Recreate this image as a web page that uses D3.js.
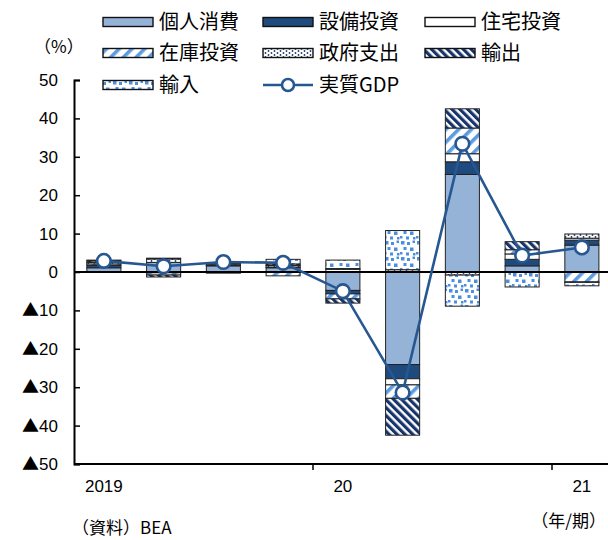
<!DOCTYPE html>
<html>
<head>
<meta charset="utf-8">
<script src="https://cdn.jsdelivr.net/npm/d3@7"></script>
<style>
  html, body { margin: 0; padding: 0; background: #fff; }
  svg { display: block; }
  text { fill: #000; }
</style>
</head>
<body>
<svg id="chart" width="608" height="540"></svg>
<script>
// Quarters 2019Q1 – 2021Q1
const quarters = ["2019Q1","2019Q2","2019Q3","2019Q4","2020Q1","2020Q2","2020Q3","2020Q4","2021Q1"];

// Contributions to real GDP growth (annualized q/q, %pt)
const consumption   = [1.1, 2.5, 1.6, 1.1, -4.8, -24.1, 25.4, 1.6, 7.0];
const equipmentInv  = [0.6, -0.1, 0.1, -0.1, -0.9, -3.7, 3.3, 1.7, 1.3];
const housingInv    = [-0.1, -0.1, 0.2, 0.2, 0.7, -1.6, 2.1, 1.4, 0.5];
const inventoryInv  = [0.4, -0.6, -0.1, -0.9, -1.3, -3.5, 6.7, 1.1, -2.6];
const government    = [0.4, 0.9, 0.3, 0.4, 0.2, 0.6, -0.8, -0.1, 1.1];
const exportsC      = [0.4, -0.5, 0.1, 0.4, -1.1, -9.6, 5.0, 2.1, -0.1];
const importsC      = [0.2, 0.2, -0.2, 1.2, 2.2, 10.2, -8.1, -3.8, -0.9];

// Real GDP growth (annualized q/q, %)
const realGDP = [2.9, 1.5, 2.6, 2.4, -5.0, -31.4, 33.4, 4.3, 6.4];

const seriesNames = ["個人消費","設備投資","住宅投資","在庫投資","政府支出","輸出","輸入"];
const seriesValues = [consumption, equipmentInv, housingInv, inventoryInv, government, exportsC, importsC];
const lineName = "実質GDP";

const yTicks = [50, 40, 30, 20, 10, 0, -10, -20, -30, -40, -50];
const yearTickQuarters = ["2019Q1", "2020Q1", "2021Q1"];
const yearTickLabels = ["2019", "20", "21"];

const svg = d3.select("#chart");
const LINE = "#275791";
const FONT_NUM = "'Liberation Sans', Arial, sans-serif";
const FONT_JP = "'Noto Sans CJK JP', 'Noto Sans', sans-serif";

// ---------- fills & patterns ----------
const defs = svg.append("defs");

// 在庫投資: light-blue "/" stripes
const pInv = defs.append("pattern").attr("id", "p-inv")
  .attr("patternUnits", "userSpaceOnUse").attr("width", 9).attr("height", 9)
  .attr("patternTransform", "rotate(45)");
pInv.append("rect").attr("width", 9).attr("height", 9).attr("fill", "#fff");
pInv.append("rect").attr("x", 0).attr("width", 3.6).attr("height", 9).attr("fill", "#5A9BE2");

// 政府支出: small dark dots
const pGov = defs.append("pattern").attr("id", "p-gov")
  .attr("patternUnits", "userSpaceOnUse").attr("width", 6).attr("height", 4);
pGov.append("rect").attr("width", 6).attr("height", 4).attr("fill", "#fff");
pGov.append("circle").attr("cx", 1.5).attr("cy", 1).attr("r", 0.9).attr("fill", "#1F3C6E");
pGov.append("circle").attr("cx", 4.5).attr("cy", 3).attr("r", 0.9).attr("fill", "#1F3C6E");

// 輸出: navy "\" stripes
const pExp = defs.append("pattern").attr("id", "p-exp")
  .attr("patternUnits", "userSpaceOnUse").attr("width", 5.6).attr("height", 5.6)
  .attr("patternTransform", "rotate(-45)");
pExp.append("rect").attr("width", 5.6).attr("height", 5.6).attr("fill", "#fff");
pExp.append("rect").attr("width", 3.2).attr("height", 5.6).attr("fill", "#17336B");

// 輸入: scattered blue squares
const pImp = defs.append("pattern").attr("id", "p-imp")
  .attr("patternUnits", "userSpaceOnUse").attr("width", 16).attr("height", 16);
pImp.append("rect").attr("width", 16).attr("height", 16).attr("fill", "#fff");
[[1,1,3.5,3.5],[7,2,3,3],[12.5,0.5,2.5,2.5],[3.5,7,3,3],[10,7.5,3.5,3.5],
 [0,12,2.5,2.5],[6,12.5,3,3],[13,13,2.5,2.5]].forEach(([x, y, w, h]) => {
  pImp.append("rect").attr("x", x).attr("y", y).attr("width", w).attr("height", h).attr("fill", "#4C8FE0");
});

const fills = ["#95B3D7", "#1F4A7E", "#FFFFFF", "url(#p-inv)", "url(#p-gov)", "url(#p-exp)", "url(#p-imp)"];

// ---------- scales ----------
const x = d3.scaleBand().domain(quarters).range([74, 74 + 9 * 59.75]).paddingInner(0.43).paddingOuter(0.215);
const y = d3.scaleLinear().domain([-50, 50]).range([464, 80]);

// ---------- stacked bars ----------
const table = quarters.map((q, i) => {
  const row = { q };
  seriesNames.forEach((s, j) => { row[s] = seriesValues[j][i]; });
  return row;
});
const stack = d3.stack().keys(seriesNames).offset(d3.stackOffsetDiverging);
const stacked = stack(table);

const barG = svg.append("g");
stacked.forEach((layer, j) => {
  barG.selectAll(null).data(layer).join("rect")
    .attr("x", d => x(d.data.q))
    .attr("width", x.bandwidth())
    .attr("y", d => y(Math.max(d[0], d[1])))
    .attr("height", d => Math.abs(y(d[0]) - y(d[1])))
    .attr("fill", fills[j])
    .attr("stroke", "#222")
    .attr("stroke-width", 1);
});

// ---------- axes ----------
const yAxis = d3.axisLeft(y).tickValues(yTicks).tickSize(-6).tickPadding(16).tickFormat(() => "");
const gy = svg.append("g").attr("transform", "translate(74,0)").call(yAxis);
gy.select(".domain").attr("stroke", "#000").attr("stroke-width", 2);
gy.selectAll(".tick line").attr("stroke", "#000").attr("stroke-width", 1.5);
// tick labels: negatives carry a full-width ▲ instead of a minus sign
gy.selectAll(".tick text").each(function (v) {
  const t = d3.select(this).attr("font-family", FONT_NUM).attr("font-size", 17).attr("fill", "#000");
  if (v < 0) {
    t.append("tspan").attr("font-family", FONT_JP).attr("font-size", 17).text("▲");
    t.append("tspan").text(String(-v));
  } else {
    t.text(String(v));
  }
});

// bottom axis line with year boundaries
const gx = svg.append("g");
gx.append("line").attr("x1", 74).attr("x2", 608).attr("y1", y(-50)).attr("y2", y(-50))
  .attr("stroke", "#000").attr("stroke-width", 2);
const step = x.step();
yearTickQuarters.slice(1).forEach(q => {
  const bx = x(q) - (step - x.bandwidth()) / 2;
  gx.append("line").attr("x1", bx).attr("x2", bx).attr("y1", y(-50)).attr("y2", y(-50) + 6)
    .attr("stroke", "#000").attr("stroke-width", 1.5);
});
yearTickQuarters.forEach((q, i) => {
  gx.append("text").attr("x", x(q) + x.bandwidth() / 2).attr("y", 492)
    .attr("text-anchor", "middle").attr("font-family", FONT_NUM).attr("font-size", 17)
    .text(yearTickLabels[i]);
});

// zero line
svg.append("line").attr("x1", 74).attr("x2", 608).attr("y1", y(0)).attr("y2", y(0))
  .attr("stroke", "#000").attr("stroke-width", 2);

// ---------- GDP line ----------
const line = d3.line().x((d, i) => x(quarters[i]) + x.bandwidth() / 2).y(d => y(d));
svg.append("path").datum(realGDP).attr("d", line)
  .attr("fill", "none").attr("stroke", LINE).attr("stroke-width", 2.6);
svg.selectAll(null).data(realGDP).join("circle")
  .attr("cx", (d, i) => x(quarters[i]) + x.bandwidth() / 2)
  .attr("cy", d => y(d))
  .attr("r", 6.8).attr("fill", "#fff").attr("stroke", LINE).attr("stroke-width", 2.6);

// ---------- legend ----------
const legCols = [103, 263, 425];
const legRows = [22, 53, 85];
const leg = svg.append("g");
const items = seriesNames.map((s, j) => ({ name: s, fill: fills[j], type: "bar" }))
  .concat([{ name: lineName, type: "line" }]);
items.forEach((it, k) => {
  const cx = legCols[k % 3], cy = legRows[Math.floor(k / 3)];
  if (it.type === "bar") {
    leg.append("rect").attr("x", cx).attr("y", cy - 4.5).attr("width", 50).attr("height", 9)
      .attr("fill", it.fill).attr("stroke", "#111").attr("stroke-width", 1.4);
  } else {
    leg.append("line").attr("x1", cx).attr("x2", cx + 50).attr("y1", cy).attr("y2", cy)
      .attr("stroke", LINE).attr("stroke-width", 2.6);
    leg.append("circle").attr("cx", cx + 25).attr("cy", cy).attr("r", 6)
      .attr("fill", "#fff").attr("stroke", LINE).attr("stroke-width", 2.6);
  }
  leg.append("text").attr("x", cx + 56).attr("y", cy).attr("dy", "0.36em")
    .attr("font-family", FONT_JP).attr("font-size", 20).text(it.name);
});

// ---------- annotations ----------
svg.append("text").attr("x", 34).attr("y", 53).attr("font-family", FONT_JP).attr("font-size", 17).text("（%）");
svg.append("text").attr("x", 72).attr("y", 534).attr("font-family", FONT_JP).attr("font-size", 17).text("（資料）BEA");
svg.append("text").attr("x", 606).attr("y", 527).attr("text-anchor", "end").attr("font-family", FONT_JP).attr("font-size", 17).text("（年/期）");
</script>
</body>
</html>
